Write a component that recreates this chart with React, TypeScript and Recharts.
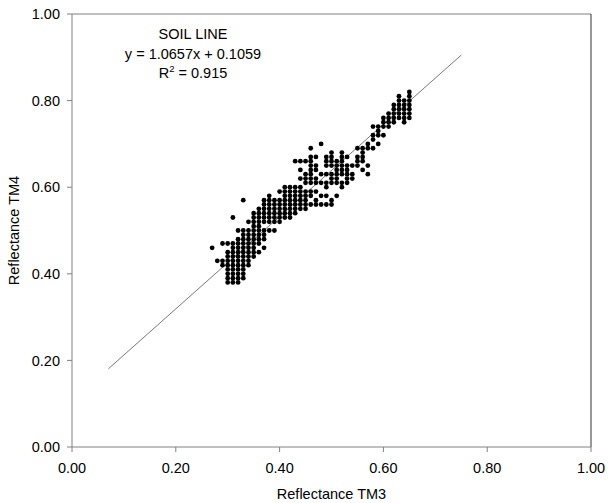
import { ScatterChart, Scatter, XAxis, YAxis, ReferenceLine, Customized } from "recharts"

// TM3 reflectance columns and the TM4 values seen in each column
const tm3Columns = [
  0.27, 0.28, 0.29, 0.3, 0.31, 0.32, 0.33, 0.34, 0.35, 0.36, 0.37, 0.38, 0.39, 0.4, 0.41, 0.42, 0.43, 0.44, 0.45, 0.46,
  0.47, 0.48, 0.49, 0.5, 0.51, 0.52, 0.53, 0.54, 0.55, 0.56, 0.57, 0.58, 0.59, 0.6, 0.61, 0.62, 0.63, 0.64, 0.65,
]

const tm4ByColumn = [
  [0.46],
  [0.43],
  [0.42, 0.43, 0.47],
  [0.38, 0.39, 0.4, 0.41, 0.42, 0.43, 0.44, 0.45, 0.47],
  [0.38, 0.39, 0.4, 0.41, 0.42, 0.43, 0.44, 0.45, 0.46, 0.47, 0.53],
  [0.38, 0.39, 0.4, 0.41, 0.42, 0.43, 0.44, 0.45, 0.46, 0.47, 0.48, 0.5],
  [0.39, 0.4, 0.41, 0.42, 0.43, 0.44, 0.45, 0.46, 0.47, 0.48, 0.49, 0.5, 0.57],
  [0.42, 0.43, 0.44, 0.45, 0.46, 0.47, 0.48, 0.49, 0.5, 0.52],
  [0.44, 0.45, 0.46, 0.47, 0.48, 0.49, 0.5, 0.51, 0.52, 0.53, 0.54],
  [0.45, 0.47, 0.48, 0.49, 0.5, 0.51, 0.52, 0.53, 0.54, 0.55],
  [0.46, 0.48, 0.49, 0.5, 0.52, 0.53, 0.54, 0.55, 0.56, 0.57],
  [0.5, 0.52, 0.53, 0.54, 0.55, 0.56, 0.57, 0.58],
  [0.5, 0.52, 0.53, 0.54, 0.55, 0.56, 0.57],
  [0.52, 0.53, 0.54, 0.55, 0.56, 0.57, 0.59],
  [0.53, 0.54, 0.55, 0.56, 0.57, 0.58, 0.59, 0.6],
  [0.53, 0.54, 0.55, 0.56, 0.57, 0.58, 0.59, 0.6],
  [0.54, 0.55, 0.56, 0.57, 0.58, 0.59, 0.6, 0.66],
  [0.55, 0.56, 0.57, 0.58, 0.59, 0.6, 0.62, 0.64, 0.66],
  [0.55, 0.56, 0.57, 0.58, 0.59, 0.61, 0.62, 0.63, 0.66],
  [0.56, 0.58, 0.59, 0.61, 0.62, 0.63, 0.64, 0.65, 0.66, 0.67, 0.69],
  [0.56, 0.57, 0.59, 0.61, 0.62, 0.64, 0.65, 0.67],
  [0.56, 0.58, 0.61, 0.63, 0.7],
  [0.56, 0.58, 0.6, 0.61, 0.63, 0.65, 0.66, 0.67],
  [0.56, 0.57, 0.61, 0.62, 0.63, 0.65, 0.66, 0.67, 0.68],
  [0.58, 0.61, 0.62, 0.63, 0.64, 0.65, 0.66],
  [0.6, 0.61, 0.63, 0.64, 0.65, 0.66, 0.67, 0.68],
  [0.61, 0.62, 0.63, 0.64, 0.65, 0.67],
  [0.62, 0.63, 0.65],
  [0.65, 0.66, 0.67, 0.69],
  [0.64, 0.66, 0.67, 0.68, 0.69],
  [0.63, 0.65, 0.69, 0.7],
  [0.69, 0.71, 0.72, 0.74],
  [0.7, 0.72, 0.73, 0.74],
  [0.72, 0.74, 0.75, 0.76],
  [0.74, 0.75, 0.76, 0.77],
  [0.75, 0.76, 0.77, 0.78, 0.79],
  [0.76, 0.77, 0.78, 0.79, 0.8, 0.81],
  [0.75, 0.76, 0.77, 0.78, 0.79, 0.8],
  [0.76, 0.77, 0.78, 0.79, 0.8, 0.81, 0.82],
]

const axisTicks = [0, 0.2, 0.4, 0.6, 0.8, 1.0]

// soil line fit
const soilSlope = 1.0657
const soilIntercept = 0.1059
const soilFrom = 0.07
const soilTo = 0.75
const soilR2 = 0.915

const points = tm3Columns.flatMap((x, i) => tm4ByColumn[i].map((y) => ({ tm3: x, tm4: y })))

const font = "'Liberation Sans', Arial, sans-serif"
const axisGray = "#808080"

const Dot = (props: any) => <circle cx={props.cx} cy={props.cy} r={2.4} fill="#000" />

const Titles = () => (
  <g fontFamily={font} fontSize={14.5} fill="#000">
    <text x={193} y={39} textAnchor="middle">SOIL LINE</text>
    <text x={193} y={58.5} textAnchor="middle">
      y = {soilSlope}x + {soilIntercept}
    </text>
    <text x={193} y={78} textAnchor="middle">
      R<tspan fontSize={9.5} dy={-6}>2</tspan>
      <tspan dy={6}> = {soilR2}</tspan>
    </text>
    <text x={331.5} y={499} textAnchor="middle">Reflectance TM3</text>
    <text x={19} y={230.5} textAnchor="middle" transform="rotate(-90 19 230.5)">Reflectance TM4</text>
  </g>
)

export default function App() {
  const tick = { fill: "#000", fontSize: 14.5, fontFamily: font }
  return (
    <div style={{ position: "absolute", left: 0, top: 0, background: "#fff" }}>
      <ScatterChart width={608} height={503} margin={{ top: 14, right: 17, bottom: 0, left: 0 }}>
        <XAxis
          dataKey="tm3"
          type="number"
          domain={[0, 1]}
          ticks={axisTicks}
          tickFormatter={(v: number) => v.toFixed(2)}
          height={56}
          tickSize={5}
          tickMargin={11}
          tick={tick}
          axisLine={{ stroke: axisGray }}
          tickLine={{ stroke: axisGray }}
        />
        <YAxis
          dataKey="tm4"
          type="number"
          domain={[0, 1]}
          ticks={axisTicks}
          tickFormatter={(v: number) => v.toFixed(2)}
          width={72}
          tickSize={5}
          tickMargin={7}
          tick={tick}
          axisLine={{ stroke: axisGray }}
          tickLine={{ stroke: axisGray }}
        />
        <ReferenceLine y={1} stroke={axisGray} />
        <ReferenceLine x={1} stroke="#333" />
        <ReferenceLine
          segment={[
            { x: soilFrom, y: soilSlope * soilFrom + soilIntercept },
            { x: soilTo, y: soilSlope * soilTo + soilIntercept },
          ]}
          stroke="#555"
          strokeWidth={0.8}
        />
        <Scatter data={points} shape={Dot} isAnimationActive={false} />
        <Customized component={Titles} />
      </ScatterChart>
    </div>
  )
}
